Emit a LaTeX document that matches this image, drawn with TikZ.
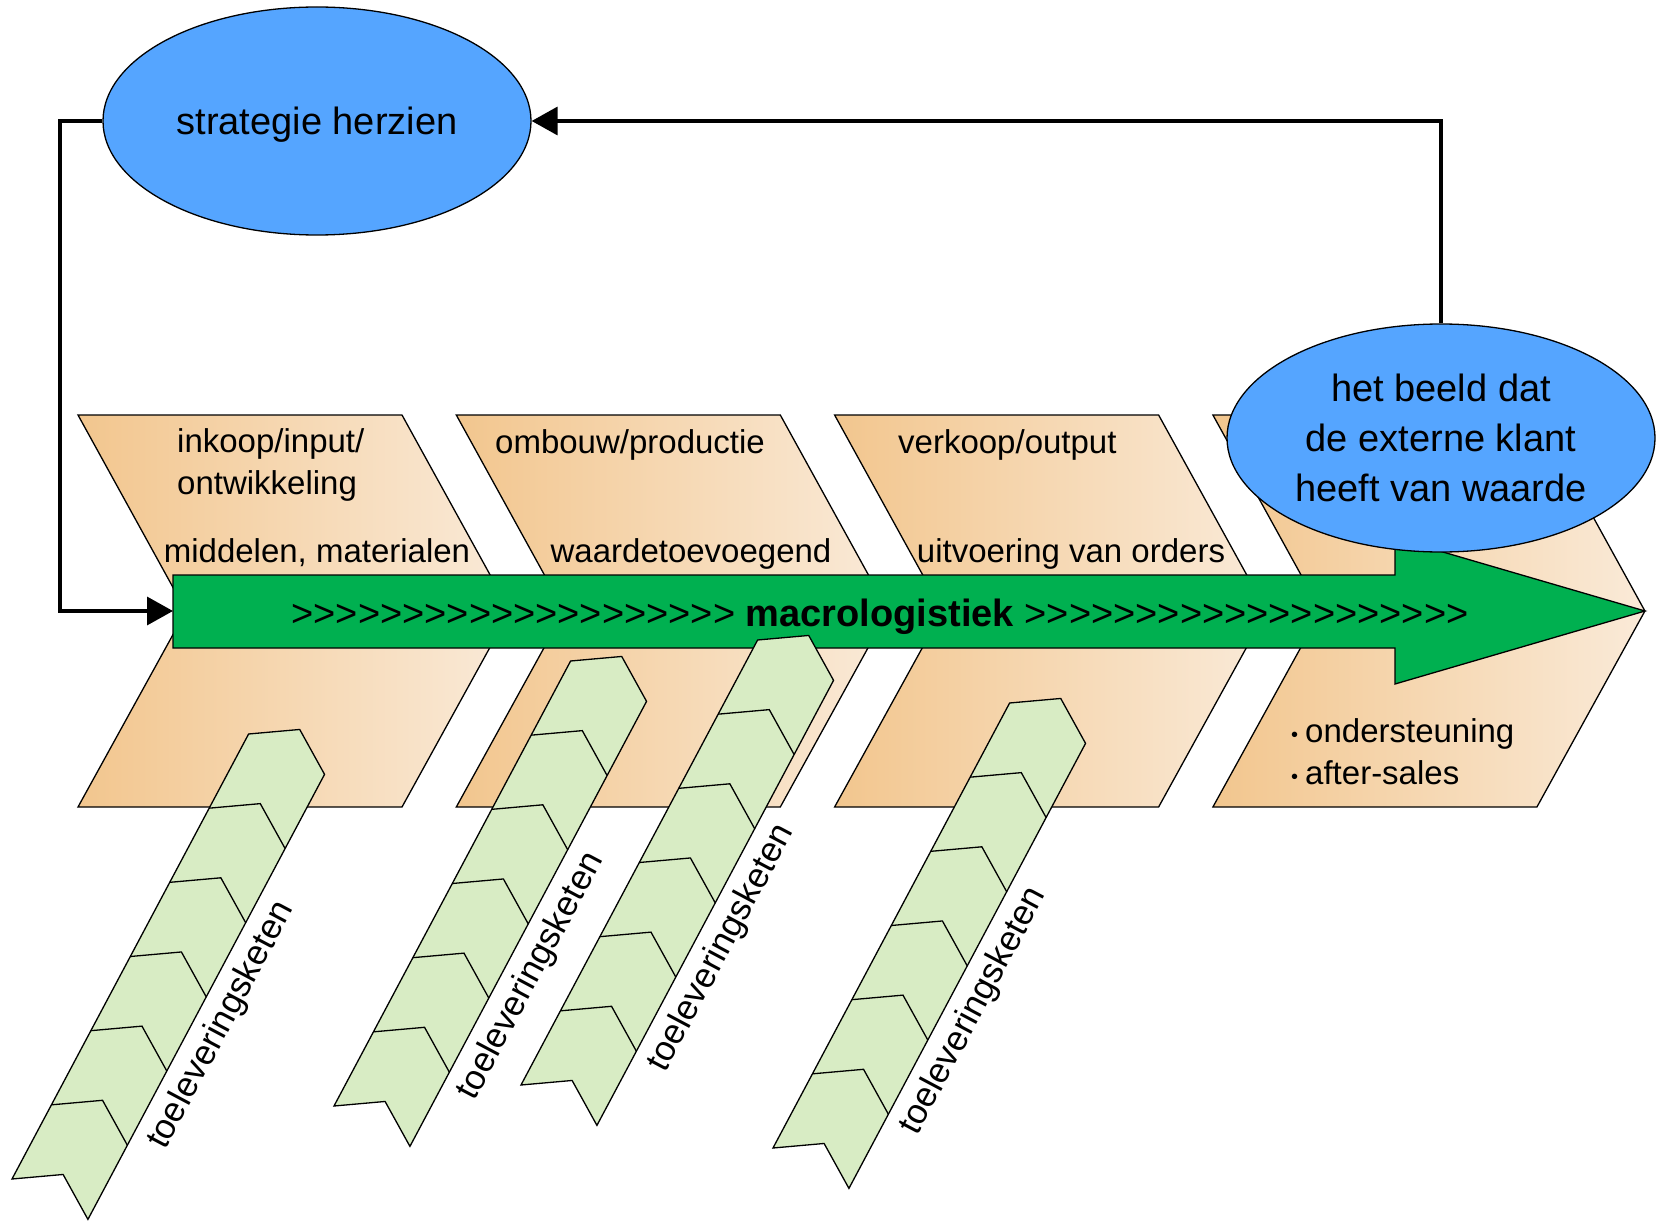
\documentclass[tikz,border=0pt]{standalone}
\usepackage{fontspec}
\setmainfont{Liberation Sans}
\usetikzlibrary{arrows.meta,shapes.geometric}
\definecolor{chevleft}{RGB}{242,198,142}
\definecolor{chevright}{RGB}{250,234,216}
\definecolor{macrogreen}{RGB}{0,176,80}
\definecolor{ovalblue}{RGB}{85,165,255}
\definecolor{chainfill}{RGB}{216,236,196}
\newcommand\smallbullet{\raisebox{1pt}{\fontsize{20}{20}\selectfont•}\hspace{7pt}}
\tikzset{
  phase/.style={draw, line width=1.3pt, left color=chevleft, right color=chevright},
  chain/.style={draw, line width=1.3pt, fill=chainfill},
  oval/.style={draw, line width=1.3pt, fill=ovalblue, ellipse, inner sep=0pt,
    minimum width=428pt, minimum height=228pt, align=center},
  lbl/.style={inner sep=0pt, font=\fontsize{33}{42}\selectfont},
  feedback/.style={line width=3.5pt, -{Triangle[length=26pt,width=28pt]}},
}
\begin{document}
\begin{tikzpicture}[x=1pt, y=-1pt]
\useasboundingbox (0,0) rectangle (1656,1222);
% four phases
\foreach \px in {78, 456.3, 834.6, 1212.9}
  \draw[phase] (\px,415) -- ++(324,0) -- ++(108,196) -- ++(-108,196) -- ++(-324,0) -- ++(108,-196) -- cycle;
% macrologistiek arrow
\draw[line width=1.3pt, fill=macrogreen] (173,575) -- (1395,575) -- (1395,538) -- (1645,611)
  -- (1395,684) -- (1395,648) -- (173,648) -- cycle;
\coordinate (barin) at (173,611);
\node[inner sep=0pt, font=\fontsize{38}{38}\selectfont, anchor=base] (macro) at (880,626)
  {>{}>{}>{}>{}>{}>{}>{}>{}>{}>{}>{}>{}>{}>{}>{}>{}>{}>{}>{}> \textbf{macrologistiek} >{}>{}>{}>{}>{}>{}>{}>{}>{}>{}>{}>{}>{}>{}>{}>{}>{}>{}>{}>};
% supply chains
\foreach \ox/\oy/\ta [count=\i] in {12/1179/234, 334/1106/207, 521/1085/215, 773/1148/215} {
  \begin{scope}[shift={(\ox,\oy)}, rotate=62]
    \draw[chain] (0,0) -- (504,0) -- (532,43) -- (504,86) -- (0,86) -- (28,43) -- cycle;
    \foreach \k in {1,...,5}
      \draw[line width=1.3pt] (84*\k,0) -- (84*\k+28,43) -- (84*\k,86);
    \node[lbl, font=\fontsize{35}{35}\selectfont, rotate=62, anchor=base] (chain\i) at (\ta,122) {toeleveringsketen};
  \end{scope}
}
% phase labels
\node[lbl, align=left, anchor=north west] (inkoop) at (177,428) {inkoop/input/\\ontwikkeling};
\node[lbl, anchor=base] (middelen) at (317,562) {middelen, materialen};
\node[lbl, anchor=base west] (ombouw) at (495,453) {ombouw/productie};
\node[lbl, anchor=base] (waarde) at (691,562) {waardetoevoegend};
\node[lbl, anchor=base west] (verkoop) at (898,453) {verkoop/output};
\node[lbl, anchor=base] (uitvoering) at (1071,562) {uitvoering van orders};
\node[lbl, align=left, anchor=north west] (support) at (1291,718)
  {\smallbullet ondersteuning\\\smallbullet after-sales};
% ovals
\node[oval, text depth=0pt, font=\fontsize{38}{38}\selectfont] (strategie) at (317,121) {strategie herzien};
\node[oval, font=\fontsize{38}{50}\selectfont] (klant) at (1441,438) {het beeld dat\\de externe klant\\heeft van waarde};
% feedback loop
\coordinate (loopcorner) at (60,121);
\draw[feedback] (klant.north) |- (strategie.east);
\draw[feedback] (strategie.west) -- (loopcorner) |- (barin);
\end{tikzpicture}
\end{document}
